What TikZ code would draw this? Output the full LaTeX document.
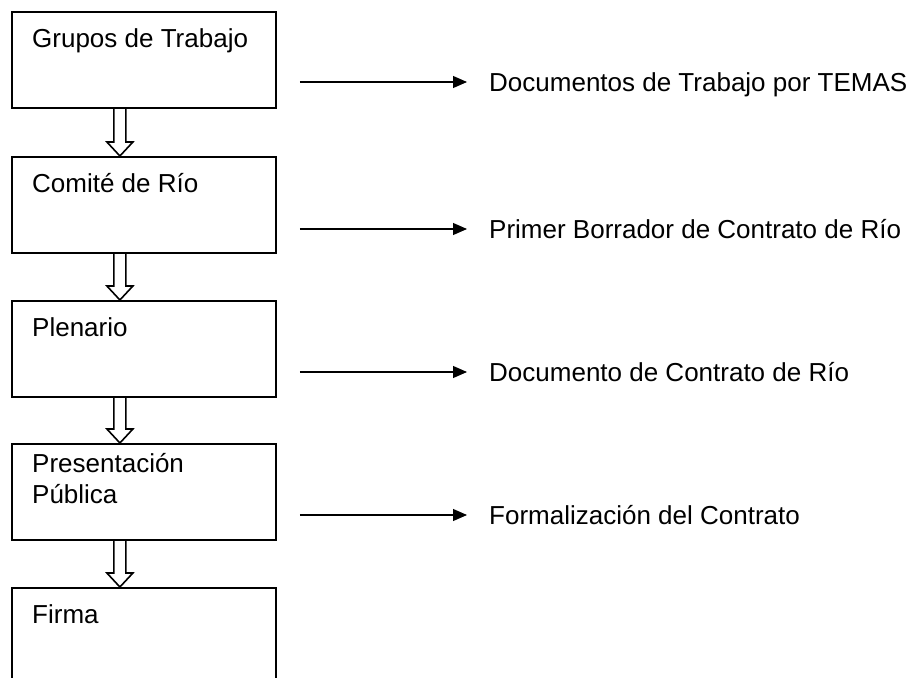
\documentclass[tikz,border=0pt]{standalone}
\usepackage{fontspec}
\setmainfont{Liberation Sans}
\usetikzlibrary{arrows.meta,positioning}

\tikzset{
  caja/.style={draw, line width=1.8pt, minimum width=264pt, minimum height=96pt, inner sep=0pt, anchor=north west},
  titulo/.style={anchor=north west, inner sep=0pt, align=left, execute at begin node={\rule{0pt}{26pt}}},
  salida/.style={anchor=west, inner sep=0pt, text height=18.6pt, text depth=0pt},
  flechita/.style={line width=1.1pt, -{Triangle[length=14pt,width=12pt]}, shorten <=23pt, shorten >=22pt},
  hueca/.style={line width=1.6pt, line join=miter}
}
% flecha hueca entre dos cajas
\newcommand{\flechahueca}[2]{%
  \draw[hueca] ([xshift=-30pt]#1.south) -- ([xshift=-30pt,yshift=14pt]#2.north)
    -- ([xshift=-37pt,yshift=14pt]#2.north) -- ([xshift=-24pt]#2.north)
    -- ([xshift=-11pt,yshift=14pt]#2.north) -- ([xshift=-18pt,yshift=14pt]#2.north)
    -- ([xshift=-18pt]#1.south);}

\begin{document}
\begin{tikzpicture}[x=1pt,y=-1pt,every node/.style={font=\fontsize{26}{31}\selectfont}]
\useasboundingbox (0,0) rectangle (920,677);
% cajas
\node[caja] (g1) at (11,11) {};
\node[caja] (g2) at (11,156) {};
\node[caja] (g3) at (11,300) {};
\node[caja] (g4) at (11,443) {};
\node[caja] (g5) at (11,587) {};
\node[titulo] (n1) at ([xshift=21pt,yshift=-10pt]g1.north west) {Grupos de Trabajo};
\node[titulo] (n2) at ([xshift=21pt,yshift=-10pt]g2.north west) {Comité de Río};
\node[titulo] (n3) at ([xshift=21pt,yshift=-10pt]g3.north west) {Plenario};
\node[titulo] (n4) at ([xshift=21pt,yshift=-10pt]g4.north west) {Presentación\\Pública};
\node[titulo] (n5) at ([xshift=21pt,yshift=-10pt]g5.north west) {Firma};
% resultados
\node[salida] (d1) at (489,82) {Documentos de Trabajo por TEMAS};
\node[salida] (d2) at (489,229) {Primer Borrador de Contrato de Río};
\node[salida] (d3) at (489,372) {Documento de Contrato de Río};
\node[salida] (d4) at (489,515) {Formalización del Contrato};
% flechas
\flechahueca{g1}{g2}
\flechahueca{g2}{g3}
\flechahueca{g3}{g4}
\flechahueca{g4}{g5}
\draw[flechita] (g1.east |- d1.west) -- (d1.west);
\draw[flechita] (g2.east |- d2.west) -- (d2.west);
\draw[flechita] (g3.east |- d3.west) -- (d3.west);
\draw[flechita] (g4.east |- d4.west) -- (d4.west);
\end{tikzpicture}
\end{document}
